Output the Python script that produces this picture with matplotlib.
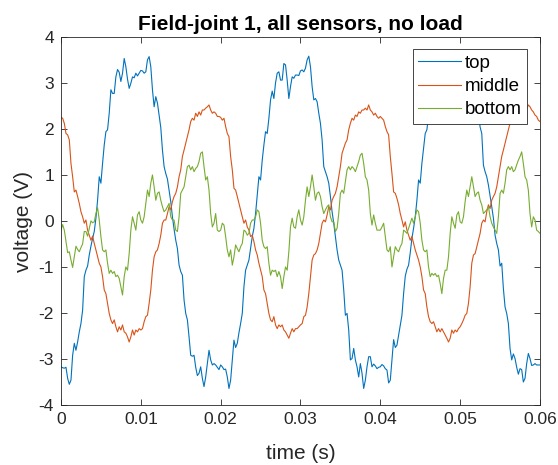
import numpy as np
import matplotlib
matplotlib.use("Agg")
import matplotlib.pyplot as plt

# Sensor voltages (V) sampled uniformly over 0 .. 0.06 s (3 mains cycles)
top_v = [
    -3.16, -3.18, -3.19, -3.17, -3.41, -3.54, -3.45, -2.91, -2.65, -2.80,
    -2.62, -2.40, -2.22, -1.93, -1.20, -1.06, -0.97, -0.73, -0.54, -0.37,
    -0.22, 0.07, 0.46, 0.97, 0.83, 1.26, 1.66, 1.95, 1.99, 2.35,
    2.86, 2.78, 2.78, 3.14, 3.30, 3.24, 3.04, 3.22, 3.54, 3.36,
    3.09, 2.89, 3.00, 3.14, 3.12, 3.22, 3.16, 3.22, 3.28, 3.27,
    3.22, 3.25, 3.51, 3.58, 3.36, 2.86, 2.49, 2.71, 2.57, 2.31,
    2.04, 1.55, 1.19, 1.04, 0.92, 0.68, 0.43, 0.10, -0.17, -0.41,
    -0.59, -0.95, -1.09, -1.17, -1.71, -2.00, -2.14, -2.51, -2.91, -2.93,
    -2.91, -3.17, -3.35, -3.30, -3.16, -3.41, -3.59, -3.38, -3.09, -2.80,
    -3.01, -3.12, -3.09, -3.12, -3.17, -3.22,
    -3.12, -3.16, -3.22, -3.21, -3.38, -3.63, -3.45, -3.01, -2.58, -2.74,
    -2.65, -2.42, -2.22, -2.00, -1.42, -1.06, -0.95, -0.84, -0.59, -0.33,
    -0.15, 0.17, 0.57, 0.97, 0.90, 1.33, 1.66, 1.95, 1.91, 2.24,
    2.64, 2.83, 2.67, 3.01, 3.22, 3.25, 3.07, 3.07, 3.43, 3.40,
    3.07, 2.67, 2.93, 3.14, 3.11, 3.18, 3.18, 3.17, 3.27, 3.29,
    3.25, 3.33, 3.51, 3.59, 3.36, 2.93, 2.64, 2.67, 2.60, 2.35,
    2.13, 1.77, 1.19, 1.08, 0.97, 0.83, 0.54, 0.21, -0.04, -0.33,
    -0.62, -0.84, -0.95, -1.06, -1.49, -2.04, -2.00, -2.36, -3.01, -2.98,
    -2.76, -3.01, -3.16, -3.38, -3.09, -3.30, -3.63, -3.45, -3.16, -2.94,
    -2.94, -3.16, -3.10, -3.14, -3.20, -3.17,
    -3.16, -3.11, -3.14, -3.20, -3.23, -3.51, -3.45, -3.01, -2.57, -2.74,
    -2.69, -2.47, -2.25, -2.04, -1.57, -1.19, -1.04, -0.95, -0.68, -0.37,
    -0.15, 0.10, 0.46, 0.90, 0.83, 1.26, 1.59, 1.91, 1.99, 2.30,
    2.80, 2.80, 2.74, 3.10, 3.28, 3.22, 3.05, 3.15, 3.50, 3.38,
    3.08, 2.80, 2.96, 3.14, 3.12, 3.20, 3.17, 3.20, 3.27, 3.28,
    3.24, 3.30, 3.50, 3.60, 3.36, 2.90, 2.55, 2.68, 2.58, 2.33,
    2.05, 1.91, 1.22, 1.08, 0.97, 0.79, 0.56, 0.32, 0.07, -0.30,
    -0.48, -0.62, -0.97, -0.91, -1.46, -1.86, -2.00, -2.22, -2.76, -3.01,
    -2.88, -2.98, -3.17, -3.32, -3.20, -3.22, -3.49, -3.41, -3.09, -2.87,
    -2.98, -3.13, -3.12, -3.09, -3.12, -3.12, -3.12,
]

middle_v = [
    2.26, 2.24, 2.13, 1.91, 1.88, 1.77, 1.26, 0.97, 0.64, 0.68,
    0.54, 0.39, 0.21, 0.10, -0.04, 0.03, -0.19, -0.30, -0.41, -0.32,
    -0.48, -0.62, -0.77, -0.91, -0.99, -1.20, -1.49, -1.57, -1.78, -2.00,
    -2.14, -2.22, -2.14, -2.29, -2.40, -2.29, -2.36, -2.25, -2.40, -2.43,
    -2.51, -2.62, -2.51, -2.36, -2.47, -2.36, -2.40, -2.33, -2.36, -2.33,
    -2.18, -2.07, -2.04, -1.78, -1.49, -1.06, -0.77, -0.66, -0.62, -0.48,
    -0.30, -0.04, 0.03, 0.03, 0.17, 0.32, 0.25, 0.43, 0.54, 0.61,
    0.75, 0.97, 1.12, 1.41, 1.55, 1.70, 1.84, 1.99, 2.17, 2.24,
    2.20, 2.35, 2.28, 2.38, 2.31, 2.42, 2.42, 2.46, 2.49, 2.53,
    2.42, 2.35, 2.38, 2.35, 2.28, 2.28,
    2.26, 2.20, 2.24, 2.06, 1.91, 1.84, 1.41, 1.12, 0.72, 0.68,
    0.54, 0.39, 0.25, 0.10, -0.04, 0.03, -0.12, -0.19, -0.33, -0.30,
    -0.44, -0.62, -0.73, -0.91, -1.06, -1.20, -1.49, -1.57, -1.78, -2.00,
    -2.14, -2.18, -2.07, -2.25, -2.33, -2.25, -2.29, -2.25, -2.36, -2.40,
    -2.47, -2.54, -2.43, -2.33, -2.40, -2.33, -2.33, -2.29, -2.25, -2.22,
    -2.07, -2.04, -1.86, -1.57, -1.20, -0.84, -0.73, -0.70, -0.62, -0.48,
    -0.26, -0.04, 0.03, -0.01, 0.14, 0.32, 0.25, 0.46, 0.54, 0.61,
    0.75, 0.97, 1.19, 1.48, 1.59, 1.70, 1.77, 1.99, 2.13, 2.24,
    2.20, 2.31, 2.28, 2.38, 2.35, 2.42, 2.42, 2.46, 2.42, 2.53,
    2.42, 2.38, 2.31, 2.35, 2.28, 2.24,
    2.28, 2.24, 2.20, 2.06, 1.95, 1.88, 1.41, 1.04, 0.64, 0.61,
    0.50, 0.36, 0.17, 0.03, -0.12, -0.01, -0.19, -0.30, -0.41, -0.33,
    -0.48, -0.62, -0.73, -0.84, -0.99, -1.20, -1.49, -1.57, -1.86, -2.07,
    -2.18, -2.22, -2.18, -2.29, -2.40, -2.33, -2.40, -2.33, -2.40, -2.47,
    -2.54, -2.62, -2.54, -2.36, -2.43, -2.36, -2.40, -2.33, -2.29, -2.22,
    -2.14, -2.04, -2.00, -1.78, -1.42, -0.91, -0.73, -0.70, -0.55, -0.41,
    -0.26, -0.04, 0.03, -0.01, 0.21, 0.36, 0.28, 0.46, 0.54, 0.61,
    0.75, 0.97, 1.19, 1.41, 1.55, 1.70, 1.84, 1.99, 2.13, 2.22,
    2.22, 2.31, 2.28, 2.38, 2.33, 2.42, 2.42, 2.46, 2.44, 2.53,
    2.49, 2.42, 2.38, 2.31, 2.28, 2.20, 2.17,
]

bottom_v = [
    -0.19, -0.07, -0.19, -0.44, -0.68, -0.66, -0.84, -1.00, -0.77, -0.54,
    -0.61, -0.66, -0.57, -0.49, -0.22, -0.22, -0.32, -0.15, 0.01, -0.03,
    -0.01, 0.17, 0.30, 0.03, -0.33, -0.62, -0.66, -0.62, -0.91, -1.13,
    -1.06, -1.13, -1.09, -1.20, -1.17, -1.24, -1.42, -1.60, -1.20, -0.99,
    -1.06, -0.70, -0.19, 0.10, -0.04, -0.19, 0.14, 0.21, 0.03, -0.04,
    0.10, 0.39, 0.68, 0.54, 0.83, 1.01, 0.75, 0.46, 0.61, 0.64,
    0.46, 0.32, 0.21, 0.25, 0.32, 0.39, 0.10, 0.03, 0.03, -0.19,
    -0.22, 0.10, 0.61, 0.68, 0.75, 0.97, 1.19, 1.22, 1.12, 1.19,
    1.08, 1.15, 1.19, 1.30, 1.48, 1.51, 1.19, 0.90, 0.97, 0.68,
    0.17, -0.12, -0.04, 0.17, -0.19, -0.22,
    -0.19, -0.04, -0.08, -0.33, -0.62, -0.77, -0.62, -0.95, -0.77, -0.51,
    -0.59, -0.66, -0.55, -0.48, -0.19, -0.22, -0.30, -0.26, -0.04, 0.03,
    0.03, 0.10, 0.25, 0.21, -0.04, -0.41, -0.55, -0.59, -0.55, -0.91,
    -1.17, -1.06, -1.09, -1.06, -1.20, -1.09, -1.20, -1.46, -1.20, -0.99,
    -1.06, -0.66, -0.12, 0.07, -0.12, -0.15, 0.10, 0.25, 0.03, -0.08,
    0.10, 0.46, 0.75, 0.54, 0.75, 1.01, 0.75, 0.46, 0.61, 0.64,
    0.54, 0.32, 0.17, 0.25, 0.32, 0.36, 0.10, -0.01, -0.01, -0.22,
    -0.15, 0.17, 0.61, 0.68, 0.61, 0.86, 1.12, 1.19, 1.12, 1.19,
    1.15, 1.08, 1.19, 1.30, 1.44, 1.48, 1.26, 0.97, 0.90, 0.68,
    0.17, -0.08, 0.14, -0.04, -0.19, -0.19,
    -0.19, -0.12, -0.04, -0.33, -0.62, -0.66, -0.55, -0.99, -0.77, -0.55,
    -0.62, -0.66, -0.55, -0.48, -0.19, -0.22, -0.26, -0.15, -0.04, 0.07,
    -0.04, 0.10, 0.25, 0.21, -0.04, -0.41, -0.62, -0.66, -0.62, -0.99,
    -1.20, -1.13, -1.17, -1.13, -1.20, -1.17, -1.35, -1.57, -1.24, -1.06,
    -1.06, -0.77, -0.26, 0.10, -0.04, -0.15, 0.14, 0.21, -0.01, -0.04,
    0.10, 0.43, 0.68, 0.54, 0.75, 0.97, 0.75, 0.54, 0.61, 0.64,
    0.46, 0.36, 0.17, 0.21, 0.25, 0.32, 0.10, -0.04, -0.12, -0.19,
    -0.26, 0.10, 0.61, 0.68, 0.61, 0.83, 1.12, 1.19, 1.12, 1.19,
    1.08, 1.12, 1.23, 1.33, 1.41, 1.51, 1.26, 0.97, 0.90, 0.68,
    0.17, -0.12, 0.10, 0.03, -0.19, -0.22, -0.26,
]

series_names = ["top", "middle", "bottom"]
series_colors = ["#0072BD", "#D95319", "#77AC30"]
x_ticks = [0, 0.01, 0.02, 0.03, 0.04, 0.05, 0.06]
x_tick_labels = ["0", "0.01", "0.02", "0.03", "0.04", "0.05", "0.06"]
y_ticks = [-4, -3, -2, -1, 0, 1, 2, 3, 4]

t = np.linspace(0.0, 0.06, len(top_v))

plt.rcParams["font.family"] = ["Liberation Sans", "DejaVu Sans"]
plt.rcParams["axes.unicode_minus"] = False
ink = "#262626"

fig = plt.figure(figsize=(5.58, 4.65), dpi=100)
ax = fig.add_axes([0.1093, 0.128, 0.8584, 0.7918])

for vals, name, col in zip([top_v, middle_v, bottom_v], series_names, series_colors):
    ax.plot(t, vals, color=col, lw=0.8, label=name)

ax.set_xlim(0, 0.06)
ax.set_ylim(-4, 4)
ax.set_xticks(x_ticks)
ax.set_xticklabels(x_tick_labels)
ax.set_yticks(y_ticks)
ax.tick_params(direction="in", top=True, right=True, length=4, width=0.6,
               colors=ink, labelsize=12.5, pad=5)
for sp in ax.spines.values():
    sp.set_color(ink)
    sp.set_linewidth(0.6)

ax.set_xlabel("time (s)", fontsize=15, color=ink, labelpad=12)
ax.set_ylabel("voltage (V)", fontsize=15, color=ink, labelpad=4)
ax.set_title("Field-joint 1, all sensors, no load", fontsize=15,
             fontweight="bold", color="black", pad=5)

leg = ax.legend(loc="upper right", bbox_to_anchor=(0.973, 0.967),
                borderaxespad=0, fontsize=13.5, frameon=True, fancybox=False,
                handlelength=2.3, handletextpad=0.18, labelspacing=0.33,
                borderpad=0.28)
leg.get_frame().set_edgecolor(ink)
leg.get_frame().set_linewidth(0.6)
leg.get_frame().set_alpha(1)

fig.savefig("out.png", dpi=100)
